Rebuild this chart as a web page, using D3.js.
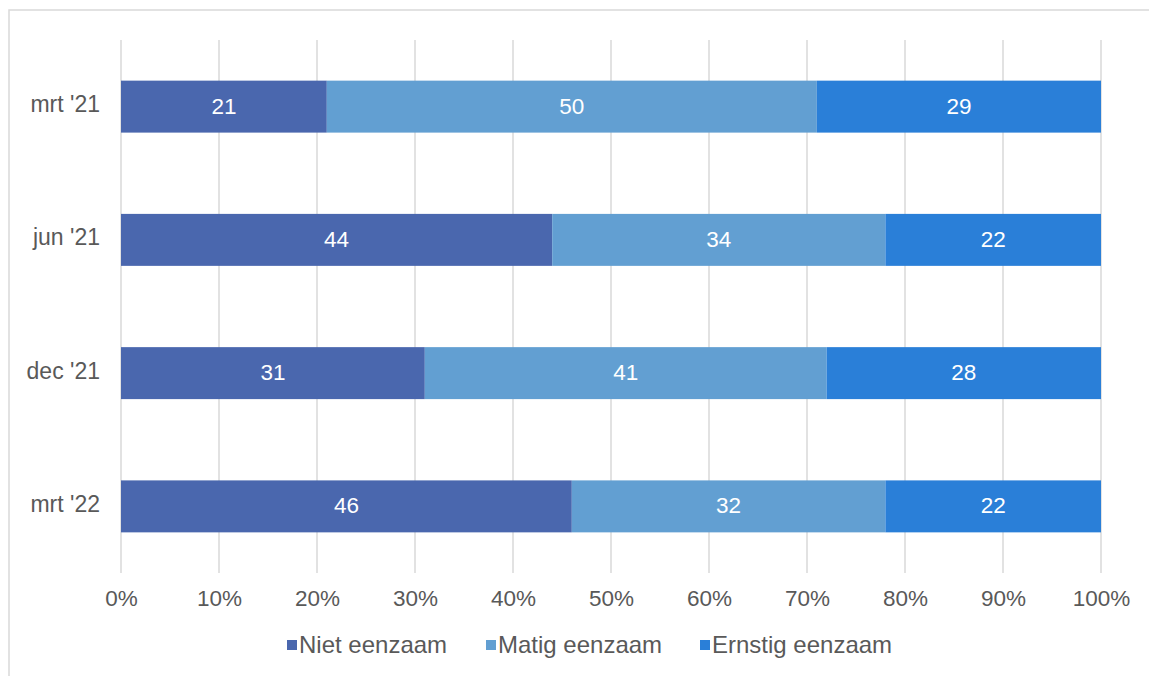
<!DOCTYPE html>
<html><head><meta charset="utf-8">
<script src="https://cdn.jsdelivr.net/npm/d3@7"></script>
<style>body{margin:0;background:#fff;}svg{display:block;}</style>
</head><body>
<script>
const categories = ["mrt '21", "jun '21", "dec '21", "mrt '22"];
const seriesNames = ["Niet eenzaam", "Matig eenzaam", "Ernstig eenzaam"];
const niet = [21, 44, 31, 46];
const matig = [50, 34, 41, 32];
const ernstig = [29, 22, 28, 22];
const tickValues = [0, 10, 20, 30, 40, 50, 60, 70, 80, 90, 100];
const colors = ["#4a67ae", "#629fd2", "#2a7fd8"];

const W = 1149, H = 676;
const font = "'Liberation Sans', Arial, Helvetica, sans-serif";
const textColor = "#595959";
const svg = d3.select("body").append("svg").attr("width", W).attr("height", H);
svg.append("rect").attr("x", 9).attr("y", 10).attr("width", W).attr("height", H)
  .attr("fill", "#fff").attr("stroke", "#d9d9d9").attr("stroke-width", 1.5);

const x = d3.scaleLinear().domain([0, 100]).range([121, 1101]);
const y = d3.scaleBand().domain(categories).range([40, 573]).paddingInner(0.61).paddingOuter(0.305);

const rows = categories.map((c, i) => ({cat: c, values: [niet[i], matig[i], ernstig[i]]}));
const stackData = rows.map(r => { const o = {cat: r.cat}; seriesNames.forEach((s, j) => o[s] = r.values[j]); return o; });
const stacked = d3.stack().keys(seriesNames)(stackData);

// gridlines
svg.append("g").selectAll("line").data(tickValues).join("line")
  .attr("x1", d => x(d)).attr("x2", d => x(d))
  .attr("y1", 40).attr("y2", 573)
  .attr("stroke", "#d9d9d9").attr("stroke-width", 1.5);

// bars
const layers = svg.append("g").selectAll("g").data(stacked).join("g")
  .attr("fill", (d, i) => colors[i]);
layers.selectAll("rect").data(d => d).join("rect")
  .attr("x", d => x(d[0])).attr("width", d => x(d[1]) - x(d[0]))
  .attr("y", d => y(d.data.cat)).attr("height", y.bandwidth());
layers.selectAll("text").data(d => d).join("text")
  .attr("x", d => (x(d[0]) + x(d[1])) / 2)
  .attr("y", d => y(d.data.cat) + y.bandwidth() / 2 - 1)
  .attr("dy", "0.35em").attr("text-anchor", "middle")
  .attr("fill", "#fff").attr("font-family", font).attr("font-size", 22.5)
  .text(d => d[1] - d[0]);

// x axis
const xAxis = svg.append("g").attr("transform", "translate(0,573)")
  .call(d3.axisBottom(x).tickValues(tickValues).tickFormat(d => d + "%").tickSize(0).tickPadding(17));
xAxis.select(".domain").remove();
xAxis.selectAll("text").attr("fill", textColor).attr("font-family", font).attr("font-size", 22.5);

// y axis
const yAxis = svg.append("g").attr("transform", "translate(121,-2)")
  .call(d3.axisLeft(y).tickSize(0).tickPadding(21));
yAxis.select(".domain").remove();
yAxis.selectAll("text").attr("fill", textColor).attr("font-family", font).attr("font-size", 23);

// legend
const legendX = [287, 486, 700];
const lg = svg.append("g").selectAll("g").data(seriesNames).join("g")
  .attr("transform", (d, i) => `translate(${legendX[i]},645)`);
lg.append("rect").attr("x", 0).attr("y", -5).attr("width", 10).attr("height", 10)
  .attr("fill", (d, i) => colors[i]);
lg.append("text").attr("x", 12).attr("y", 0).attr("dy", "0.35em")
  .attr("fill", textColor).attr("font-family", font).attr("font-size", 24)
  .text(d => d);
</script>
</body></html>
